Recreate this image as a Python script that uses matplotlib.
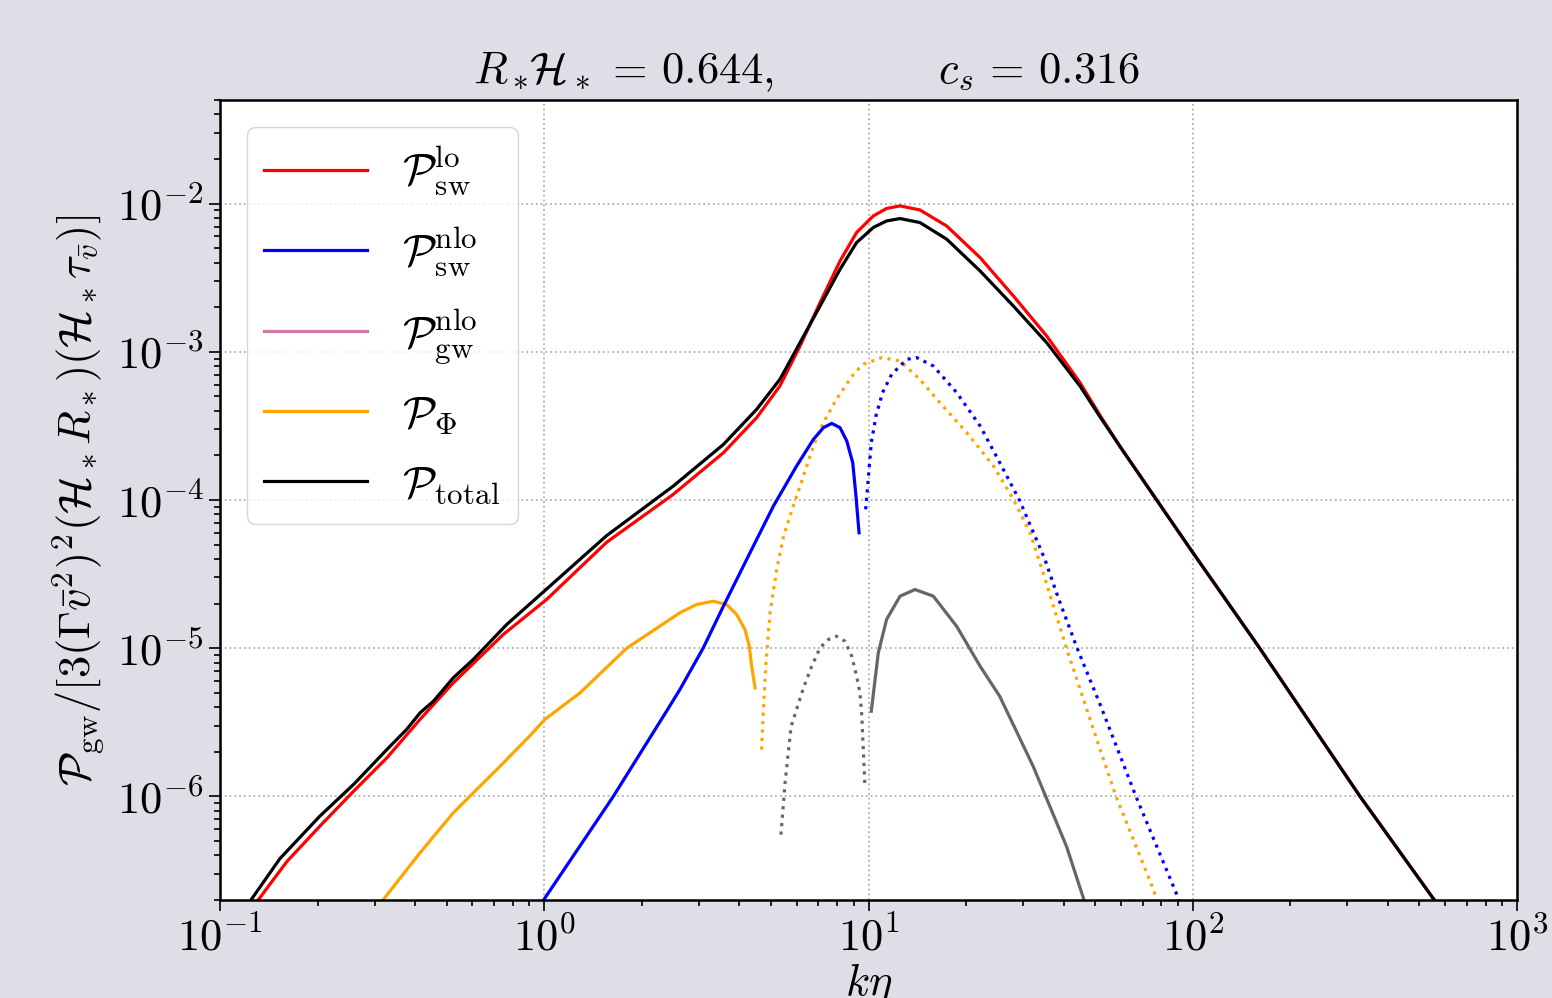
import numpy as np
import matplotlib
matplotlib.use("Agg")
import matplotlib.pyplot as plt
from matplotlib.lines import Line2D
from matplotlib.ticker import FuncFormatter

plt.rcParams['mathtext.fontset'] = 'cm'
plt.rcParams['font.family'] = ['DejaVu Serif']

# ---- data (k eta, log10 of normalised spectrum) ----
k_total = [0.12, 0.153, 0.203, 0.258, 0.327, 0.376, 0.414, 0.455, 0.524, 0.604, 0.766, 1.0,
           1.558, 2.50, 3.02, 3.57, 4.52, 5.33, 6.15, 7.09, 8.17, 9.19, 10.35, 11.37, 12.51,
           14.41, 17.42, 22.08, 27.97, 35.43, 44.9, 51.8, 59.7, 77.4, 99.2, 161, 328, 600]
logP_total = [-6.75, -6.42, -6.134, -5.920, -5.684, -5.549, -5.436, -5.358, -5.200, -5.076,
              -4.840, -4.615, -4.240, -3.906, -3.757, -3.625, -3.388, -3.186, -2.938, -2.691,
              -2.443, -2.263, -2.161, -2.117, -2.101, -2.128, -2.240, -2.454, -2.691, -2.938,
              -3.231, -3.44, -3.64, -4.0, -4.343, -5.001, -6.0, -6.8]

k_lo = [0.126, 0.161, 0.203, 0.258, 0.327, 0.414, 0.524, 0.748, 1.017, 1.558, 2.50, 3.57, 4.52,
        5.33, 6.15, 7.09, 8.17, 9.19, 10.35, 11.37, 12.51, 14.41, 17.42, 22.08, 27.97, 35.43,
        44.9, 51.8, 59.7, 77.4, 99.2, 161, 328, 600]
logP_lo = [-6.75, -6.438, -6.202, -5.966, -5.74, -5.48, -5.234, -4.907, -4.671, -4.285, -3.962,
           -3.681, -3.444, -3.231, -2.961, -2.668, -2.387, -2.195, -2.083, -2.033, -2.0155,
           -2.043, -2.151, -2.364, -2.623, -2.893, -3.208, -3.43, -3.64, -4.0, -4.343, -5.001,
           -6.0, -6.8]

k_nlo_pos = [0.96, 1.633, 2.385, 2.62, 3.09, 3.57, 4.21, 5.09, 6.0, 6.76, 7.26, 7.70, 8.17,
             8.57, 8.94, 9.15, 9.35]
logP_nlo_pos = [-6.75, -6.0, -5.424, -5.279, -5.0, -4.716, -4.401, -4.041, -3.771, -3.591,
                -3.512, -3.483, -3.512, -3.602, -3.748, -3.974, -4.221]

k_nlo_neg = [9.80, 10.0, 10.2, 10.59, 10.85, 10.99, 11.79, 13.12, 14.08, 15.85, 18.7, 22.1,
             25.4, 29.3, 33.0, 35.0, 38.5, 44.0, 51.8, 66.8, 89.6, 92.0]
logP_nlo_neg = [-4.063, -3.839, -3.613, -3.411, -3.343, -3.285, -3.152, -3.051, -3.039, -3.096,
                -3.275, -3.501, -3.748, -4.007, -4.27, -4.401, -4.662, -5.0, -5.38, -6.0,
                -6.67, -6.75]

k_phi_pos = [0.305, 0.414, 0.524, 0.748, 0.904, 1.005, 1.29, 1.796, 2.62, 2.95, 3.32, 3.65,
             3.92, 4.16, 4.29, 4.36, 4.47]
logP_phi_pos = [-6.75, -6.38, -6.111, -5.774, -5.59, -5.48, -5.301, -5.0, -4.761, -4.705,
                -4.683, -4.705, -4.772, -4.874, -4.987, -5.122, -5.268]

k_phi_neg = [4.68, 4.73, 4.83, 4.97, 5.21, 5.47, 5.86, 6.30, 6.76, 7.26, 7.96, 9.03, 9.64,
             10.99, 12.5, 14.4, 16.6, 20.1, 24.3, 28.0, 31.5, 34.3, 40.8, 51.8, 58.0, 76.0, 78.0]
logP_phi_neg = [-5.684, -5.459, -5.099, -4.761, -4.469, -4.244, -4.041, -3.839, -3.636, -3.478,
                -3.321, -3.145, -3.084, -3.039, -3.062, -3.186, -3.343, -3.546, -3.771, -3.996,
                -4.221, -4.468, -5.0, -5.684, -6.0, -6.64, -6.75]

k_gw_pos = [10.2, 10.72, 11.37, 12.51, 13.91, 15.85, 18.7, 22.1, 25.4, 32.2, 40.8, 46.0, 46.5]
logP_gw_pos = [-5.425, -5.031, -4.806, -4.649, -4.604, -4.649, -4.852, -5.122, -5.325, -5.797,
               -6.337, -6.686, -6.75]

k_gw_neg = [5.37, 5.53, 5.77, 6.30, 6.68, 7.09, 7.52, 7.96, 8.46, 8.88, 9.19, 9.41, 9.53, 9.75]
logP_gw_neg = [-6.258, -5.908, -5.53, -5.268, -5.122, -4.997, -4.941, -4.919, -4.953, -5.054,
               -5.189, -5.301, -5.448, -5.931]

legend_labels = [r'$\mathcal{P}_{\rm sw}^{\rm lo}$', r'$\mathcal{P}_{\rm sw}^{\rm nlo}$',
                 r'$\mathcal{P}_{\rm gw}^{\rm nlo}$', r'$\mathcal{P}_{\Phi}$',
                 r'$\mathcal{P}_{\rm total}$']
legend_colors = ['#ff0000', '#0000ff', '#cc79a7', '#ffa500', '#000000']

BG = '#dddee6'
FS = 32
LW = 2.3

fig = plt.figure(figsize=(15.52, 9.98), dpi=100, facecolor=BG)
ax = fig.add_axes([220/1552, 98/998, 1297/1552, 800/998])
ax.set_facecolor('white')

def P(v):
    return 10.0 ** np.asarray(v)

ax.plot(k_phi_pos, P(logP_phi_pos), color='#ffa500', lw=LW)
ax.plot(k_phi_neg, P(logP_phi_neg), color='#ffa500', lw=LW, ls=':')
ax.plot(k_nlo_pos, P(logP_nlo_pos), color='#0000ff', lw=LW)
ax.plot(k_nlo_neg, P(logP_nlo_neg), color='#0000ff', lw=LW, ls=':')
ax.plot(k_gw_pos, P(logP_gw_pos), color='#666666', lw=LW)
ax.plot(k_gw_neg, P(logP_gw_neg), color='#666666', lw=LW, ls=':')
ax.plot(k_lo, P(logP_lo), color='#ff0000', lw=LW)
ax.plot(k_total, P(logP_total), color='#000000', lw=LW)

ax.set_xscale('log')
ax.set_yscale('log')
ax.set_xlim(1e-1, 1e3)
ax.set_ylim(2e-7, 5e-2)

fmt = FuncFormatter(lambda v, pos: r'$10^{%d}$' % int(round(np.log10(v))))
ax.xaxis.set_major_formatter(fmt)
ax.yaxis.set_major_formatter(fmt)

ax.grid(True, which='major', ls=':', color='#b0b0b0', lw=1.3)
ax.tick_params(which='both', direction='out', top=False, right=False, labelsize=FS, width=1.2)
ax.tick_params(which='major', length=8)
ax.tick_params(which='minor', length=4.5)
for s in ax.spines.values():
    s.set_linewidth(1.8)

ax.set_xlabel(r'$k\eta$', fontsize=FS, labelpad=2)
ax.set_ylabel(r'$\mathcal{P}_{\rm gw}/[3(\Gamma\bar{v}^2)^2(\mathcal{H}_*R_*)(\mathcal{H}_*\tau_{\bar{v}})]$',
              fontsize=FS, labelpad=8)

fig.text(806/1552, 1 - 72/998,
         r'$R_*\!\mathcal{H}_* \,=\, 0.644,\qquad\qquad c_s \,=\, 0.316$',
         fontsize=FS, ha='center', va='center')

handles = [Line2D([], [], color=c, lw=LW) for c in legend_colors]
leg = ax.legend(handles, legend_labels, loc='upper left', fontsize=FS, handlelength=2.3,
                labelspacing=0.6, borderaxespad=0.6, fancybox=True, framealpha=0.8,
                edgecolor='#cccccc')

fig.savefig('out.png', dpi=100, facecolor=BG)
